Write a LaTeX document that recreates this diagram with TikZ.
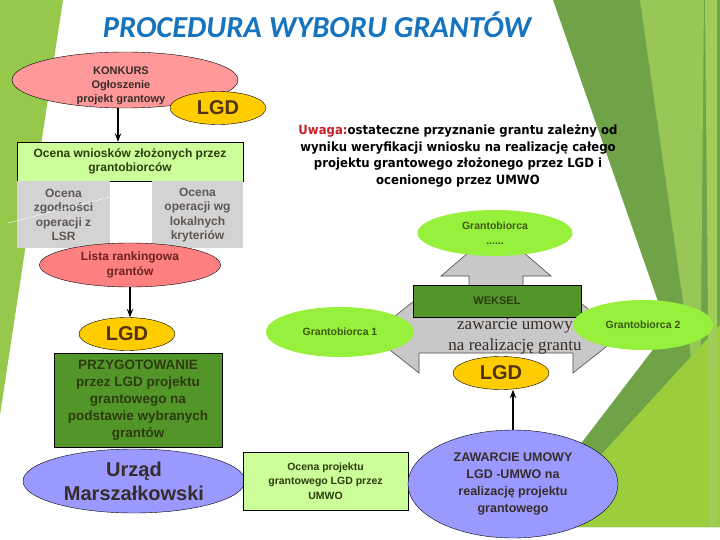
\documentclass[tikz,border=0pt]{standalone}
\usepackage{fontspec}
\setmainfont{Liberation Sans}
\newfontfamily\serifnote{Liberation Serif}
\newfontfamily\titlefont{Carlito}
\newfontfamily\notefont[FakeStretch=0.92]{DejaVu Sans}
\usetikzlibrary{positioning,arrows.meta,shapes.geometric}
\definecolor{pinkfill}{RGB}{255,153,153}
\definecolor{rankfill}{RGB}{255,128,128}
\definecolor{lgdfill}{RGB}{255,204,0}
\definecolor{lightgreen}{RGB}{204,255,153}
\definecolor{darkgreen}{RGB}{82,150,42}
\definecolor{boxgray}{RGB}{211,211,211}
\definecolor{umfill}{RGB}{153,153,255}
\definecolor{limefill}{RGB}{150,240,60}
\definecolor{arrgray}{RGB}{200,200,200}
\definecolor{titleblue}{RGB}{22,115,190}
\definecolor{uwagared}{RGB}{200,30,40}
\definecolor{darktext}{RGB}{55,45,40}
\definecolor{lgdtext}{RGB}{80,50,15}
\definecolor{ranktext}{RGB}{105,35,35}
\definecolor{olivetext}{RGB}{45,60,15}
\definecolor{limetext}{RGB}{60,90,20}
\definecolor{stripgreen}{RGB}{150,200,75}
\definecolor{facetmid}{RGB}{112,163,72}
\definecolor{facetlight}{RGB}{160,205,90}
\definecolor{facetlime}{RGB}{155,205,60}
\newcommand{\fsz}[2]{\fontsize{#1}{#2}\selectfont}

\begin{document}
\begin{tikzpicture}[
      x=1pt, y=-1pt,
      >=Stealth,
      ell/.style   ={ellipse, draw=black, inner sep=0pt, align=center},
      konk/.style  ={ell, fill=pinkfill},
      lgd/.style   ={ell, fill=lgdfill, text=lgdtext, minimum width=96pt,
                     minimum height=33pt, font=\bfseries\fsz{20}{22}},
      rank/.style  ={ell, fill=rankfill, text=ranktext,
                     font=\bfseries\fsz{12}{15}},
      um/.style    ={ell, fill=umfill, text=darktext},
      grant/.style ={ell, draw=none, fill=limefill, text=limetext,
                     font=\bfseries\fsz{10.5}{15}},
      lbox/.style  ={draw=black, fill=lightgreen, align=center, inner sep=2pt,
                     text=olivetext},
      dbox/.style  ={draw=black, fill=darkgreen, align=center, inner sep=2pt,
                     text=olivetext},
      grayb/.style ={fill=boxgray, align=center, inner sep=1pt,
                     minimum height=67pt, text=darktext!80,
                     font=\bfseries\fsz{12}{14.5}},
      arr/.style   ={->, line width=1.2pt, draw=black}
    ]
    \useasboundingbox (0,0) rectangle (720,540);
    \fill[white] (0,0) rectangle (720,540);
    % --- slide background ---
    \fill[stripgreen] (0,0) -- (63,0) -- (0,415) -- cycle;
    \fill[facetmid] (553,0) -- (720,0) -- (720,527) -- (517,527)
      -- (668,330) -- cycle;
    \fill[facetlight, opacity=0.85] (640,0) -- (704,0) -- (700,420) -- cycle;
    \fill[facetlime] (535,527) -- (720,527) -- (720,325) -- cycle;
    \fill[facetlight] (705,0) -- (717,0) -- (717,527) -- (710,527) -- cycle;
    % --- title ---
    \node[font=\titlefont\bfseries\itshape\fsz{30.5}{32}, text=titleblue]
      (title) at (317,25) {PROCEDURA WYBORU GRANTÓW};
    % --- left column ---
    \node[konk, minimum width=226pt, minimum height=56pt] (konk) at (125,80) {};
    \node[align=center, text=darktext, font=\bfseries\fsz{11}{14}]
      (konktxt) at (121,86) {KONKURS\\Ogłoszenie\\projekt grantowy};
    \node[lgd] (lgdA) at (218,108) {LGD};
    \node[lbox, minimum width=226pt, minimum height=39pt,
          font=\bfseries\fsz{12}{14}] (ocw) at (130,161.5)
      {Ocena wniosków złożonych przez\\grantobiorców};
    \node[grayb, minimum width=93pt, anchor=north west] (zgod)
      at (ocw.south west) {Ocena\\zgodności\\operacji z\\LSR};
    \node[grayb, minimum width=91pt, anchor=north east] (kryt)
      at (ocw.south east) {Ocena\\operacji wg\\lokalnych\\kryteriów};
    \draw[white, thin] (8,223) -- (110,197);
    \node[rank, minimum width=181pt, minimum height=44pt] (lista)
      at (130,265) {Lista rankingowa\\grantów};
    \node[lgd] (lgdB) at (127,334) {LGD};
    \node[dbox, minimum width=168pt, minimum height=94pt,
          font=\bfseries\fsz{13.5}{17}] (przyg) at (138,400)
      {PRZYGOTOWANIE\\przez LGD projektu\\grantowego na\\podstawie wybranych\\grantów};
    \node[um, minimum width=222pt, minimum height=64pt,
          font=\bfseries\fsz{20}{24}] (urzad) at (134,481)
      {Urząd\\Marszałkowski};
    % --- bottom row ---
    \node[lbox, minimum width=165pt, minimum height=58pt,
          font=\bfseries\fsz{10.5}{14.5}] (ocp) at (325.5,481)
      {Ocena projektu\\grantowego LGD przez\\UMWO};
    \node[um, minimum width=210pt, minimum height=108pt,
          font=\bfseries\fsz{12.5}{17}] (zaw) at (513,484)
      {ZAWARCIE UMOWY\\LGD -UMWO na\\realizację projektu\\grantowego};
    \node[lgd] (lgdC) at (501,373) {LGD};
    % --- note ---
    \node[font=\notefont\bfseries\fsz{12.7}{16.5}, align=center] (uwaga)
      at (458,156)
      {\textcolor{uwagared}{Uwaga:}ostateczne przyznanie grantu zależny od\\
       wyniku weryfikacji wniosku na realizację całego\\
       projektu grantowego złożonego przez LGD i\\
       ocenionego przez UMWO};
    % --- three-way arrow ---
    \draw[fill=arrgray, draw=black!70, line width=0.6pt]
      (496,229) -- (551,276) -- (523,276) -- (523,317) -- (573,317)
      -- (573,297) -- (621,335) -- (573,373) -- (573,353) -- (419,353)
      -- (419,373) -- (371,335) -- (419,297) -- (419,317) -- (469,317)
      -- (469,276) -- (441,276) -- cycle;
    \node[dbox, minimum width=168pt, minimum height=32pt,
          font=\bfseries\fsz{11}{13}] (weksel) at (497,301) {WEKSEL};
    \node[font=\serifnote\fsz{17}{21}, text=darktext, align=center]
      (umowa) at (515,336) {zawarcie umowy\\na realizację grantu};
    \node[grant, minimum width=155pt, minimum height=46pt] (gbA)
      at (495,233) {Grantobiorca\\......};
    \node[grant, minimum width=148pt, minimum height=50pt] (gbB)
      at (340,332) {Grantobiorca 1};
    \node[grant, minimum width=140pt, minimum height=50pt] (gbC)
      at (643,325) {Grantobiorca 2};
    % --- arrows ---
    \draw[arr] ([xshift=-7pt]konk.south) -- ([xshift=-7pt]konk.south |- ocw.north);
    \draw[arr] (lista) -- (lista |- lgdB.north);
    \draw[arr] (zaw) -- (zaw |- lgdC.south);
  \end{tikzpicture}
\end{document}
